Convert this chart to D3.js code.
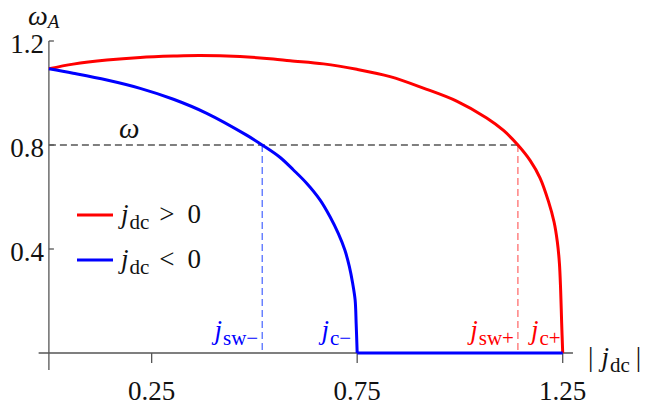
<!DOCTYPE html>
<html>
<head>
<meta charset="utf-8">
<script src="https://cdn.jsdelivr.net/npm/d3@7/dist/d3.min.js"></script>
<style>
    body { margin: 0; background: #fff; }
    svg, svg text { font-family: "Liberation Serif", "Times New Roman", Times, "DejaVu Serif", serif; }
    .axis-line { stroke: #555; stroke-width: 1.3; fill: none; }
    .tick-label { font-size: 27px; fill: #111; }
</style>
</head>
<body>
<div id="graphHolder" style="width:657px;height:412px"></div>
<script>
'use strict'
// values
var posJ     = [0, 0.059, 0.141, 0.222, 0.303, 0.368, 0.465, 0.546, 0.587, 0.668, 0.749, 0.830, 0.911, 0.992, 1.065, 1.106, 1.141, 1.171, 1.195, 1.215, 1.229, 1.237, 1.242, 1.245, 1.2475, 1.25];
var posOmega = [1.093, 1.111, 1.127, 1.137, 1.142, 1.144, 1.140, 1.131, 1.124, 1.112, 1.091, 1.063, 1.019, 0.969, 0.904, 0.856, 0.80, 0.740, 0.673, 0.585, 0.504, 0.427, 0.345, 0.242, 0.114, 0];
var negJ     = [0, 0.059, 0.141, 0.222, 0.303, 0.384, 0.481, 0.519, 0.562, 0.595, 0.627, 0.660, 0.684, 0.704, 0.720, 0.731, 0.739, 0.745, 0.7475, 0.75];
var negOmega = [1.093, 1.076, 1.05, 1.018, 0.976, 0.922, 0.838, 0.80, 0.753, 0.704, 0.653, 0.588, 0.524, 0.46, 0.396, 0.332, 0.268, 0.204, 0.114, 0];
var xTicks = [0.25, 0.75, 1.25];
var yTicks = [0.4, 0.8, 1.2];
var omegaLevel = 0.8;
var jswNeg = 0.519, jcNeg = 0.75, jswPos = 1.141, jcPos = 1.25;

function omegaChart() {
    var _chart = {};
    var _width = 657, _height = 412;
    var _x = d3.scaleLinear().domain([0, 1.25]).range([48.9, 562.7]);
    var _y = d3.scaleLinear().domain([0, 1.2]).range([353, 41]);
    var _svg;

    _chart.render = function () {
        _svg = d3.select("div#graphHolder").append("svg")
                .attr("width", _width)
                .attr("height", _height);

        renderAxes();
        renderGuides();
        renderCurves();
        renderLegend();
        renderLabels();
    };

    function renderAxes() {
        var g = _svg.append("g").attr("class", "axes");

        g.append("line").attr("class", "axis-line")
                .attr("x1", _x(-0.025)).attr("x2", _x(1.275))
                .attr("y1", _y(0)).attr("y2", _y(0));
        g.append("line").attr("class", "axis-line")
                .attr("x1", _x(0)).attr("x2", _x(0))
                .attr("y1", _y(-0.065)).attr("y2", _y(1.2));

        var xt = g.selectAll("g.xtick").data(xTicks).enter().append("g")
                .attr("class", "xtick")
                .attr("transform", function (d) { return "translate(" + _x(d) + "," + _y(0) + ")"; });
        xt.append("line").attr("class", "axis-line").attr("y2", 10);
        xt.append("text").attr("class", "tick-label")
                .attr("text-anchor", "middle").attr("y", 47)
                .text(function (d) { return d; });

        var yt = g.selectAll("g.ytick").data(yTicks).enter().append("g")
                .attr("class", "ytick")
                .attr("transform", function (d) { return "translate(" + _x(0) + "," + _y(d) + ")"; });
        yt.append("line").attr("class", "axis-line").attr("x2", 5);
        yt.append("text").attr("class", "tick-label")
                .attr("text-anchor", "end").attr("x", -5).attr("y", 12)
                .text(function (d) { return d3.format(".1f")(d); });
    }

    function renderGuides() {
        var g = _svg.append("g").attr("class", "guides")
                .attr("stroke-dasharray", "7,4").attr("stroke-width", 1.3);

        g.append("line").attr("stroke", "#555")
                .attr("x1", _x(0)).attr("x2", _x(jswPos))
                .attr("y1", _y(omegaLevel)).attr("y2", _y(omegaLevel));
        g.append("line").attr("stroke", "#5470ff")
                .attr("x1", _x(jswNeg)).attr("x2", _x(jswNeg))
                .attr("y1", _y(omegaLevel)).attr("y2", _y(0));
        g.append("line").attr("stroke", "#ff6e6e")
                .attr("x1", _x(jswPos)).attr("x2", _x(jswPos))
                .attr("y1", _y(omegaLevel)).attr("y2", _y(0));
    }

    function renderCurves() {
        var line = d3.line()
                .x(function (d) { return _x(d[0]); })
                .y(function (d) { return _y(d[1]); })
                .curve(d3.curveCatmullRom.alpha(0.5));

        var pos = d3.zip(posJ, posOmega);
        var neg = d3.zip(negJ, negOmega);

        _svg.append("path").attr("d", line(pos))
                .attr("fill", "none").attr("stroke", "#ff0000").attr("stroke-width", 3);
        _svg.append("path").attr("d", line(neg))
                .attr("fill", "none").attr("stroke", "#0000ff").attr("stroke-width", 3);
        // blue branch stays at zero between the two critical currents
        _svg.append("path").attr("d", d3.line()([[_x(jcNeg), _y(0)], [_x(jcPos), _y(0)]]))
                .attr("fill", "none").attr("stroke", "#0000ff").attr("stroke-width", 3);
    }

    function subText(sel, x, y, anchor, color, main, sub, size) {
        var t = sel.append("text")
                .attr("x", x).attr("y", y)
                .attr("text-anchor", anchor)
                .attr("fill", color)
                .style("font-size", size + "px");
        t.append("tspan").attr("font-style", "italic").text(main);
        t.append("tspan").style("font-size", Math.round(size * 0.78) + "px").attr("dx", 1).attr("dy", 6).text(sub);
        return t;
    }

    function renderLegend() {
        var g = _svg.append("g").attr("class", "legend");
        var items = [{c: "#ff0000", s: ">"}, {c: "#0000ff", s: "<"}];
        items.forEach(function (it, i) {
            var yy = 215 + i * 45;
            g.append("line").attr("x1", 77).attr("x2", 113).attr("y1", yy).attr("y2", yy)
                    .attr("stroke", it.c).attr("stroke-width", 3);
            var t = subText(g, 121, yy + 8, "start", "#111", "j", "dc", 27);
            t.append("tspan").attr("dx", 10).attr("dy", -6).text(it.s);
            t.append("tspan").attr("dx", 13).text("0");
        });
    }

    function renderLabels() {
        var g = _svg.append("g").attr("class", "labels");

        // y axis title
        var t = g.append("text").attr("x", 28).attr("y", 25).attr("fill", "#111")
                .style("font-size", "28px").attr("font-style", "italic");
        t.append("tspan").text("ω");
        t.append("tspan").style("font-size", "19px").attr("dy", 3).text("A");

        g.append("text").attr("x", 119).attr("y", 138).attr("fill", "#111")
                .attr("font-style", "italic").style("font-size", "29px").text("ω");

        // x axis title
        var xt = g.append("text").attr("x", 588).attr("y", 366).attr("fill", "#111")
                .style("font-size", "27px");
        xt.append("tspan").text("|");
        xt.append("tspan").attr("dx", 8).attr("font-style", "italic").text("j");
        xt.append("tspan").style("font-size", "21px").attr("dx", 1).attr("dy", 6).text("dc");
        xt.append("tspan").attr("dx", 6).attr("dy", -6).text("|");

        subText(g, _x(jswNeg) - 4, 339, "end", "#0000ff", "j", "sw−", 27);
        subText(g, _x(jcNeg) - 6, 339, "end", "#0000ff", "j", "c−", 27);
        subText(g, _x(jswPos) - 4, 339, "end", "#ff0000", "j", "sw+", 27);
        subText(g, _x(jcPos) - 2, 339, "end", "#ff0000", "j", "c+", 27);
    }

    return _chart;
}

var chart = omegaChart();
chart.render();
</script>
</body>
</html>
